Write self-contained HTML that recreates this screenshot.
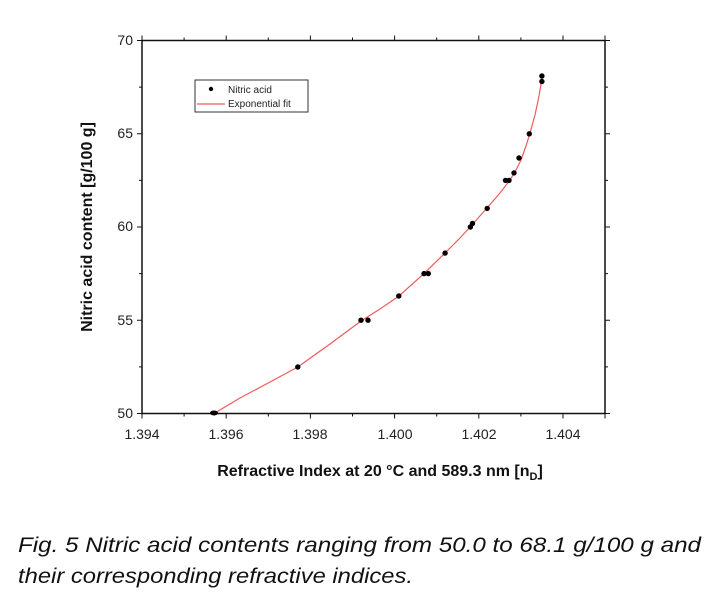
<!DOCTYPE html>
<html><head><meta charset="utf-8"><style>html,body{margin:0;padding:0;background:#fff}svg{display:block}</style></head><body>
<svg width="715" height="600" xmlns="http://www.w3.org/2000/svg" font-family="Liberation Sans, Arial, sans-serif">
<rect width="715" height="600" fill="#fff"/>
<g stroke="#111" stroke-width="1.5" fill="none">
<rect x="142" y="40.5" width="463" height="373"/>
</g>
<g stroke="#111" stroke-width="1">
<path d="M142 413.5v5M226.2 413.5v5M310.4 413.5v5M394.6 413.5v5M478.8 413.5v5M563 413.5v5M605 413.5v5
M184.1 413.5v3M268.3 413.5v3M352.5 413.5v3M436.7 413.5v3M520.9 413.5v3
M142 40.5v-5M226.2 40.5v-5M310.4 40.5v-5M394.6 40.5v-5M478.8 40.5v-5M563 40.5v-5M605 40.5v-5
M184.1 40.5v-3M268.3 40.5v-3M352.5 40.5v-3M436.7 40.5v-3M520.9 40.5v-3
M142 40.5h-5M142 133.75h-5M142 227h-5M142 320.25h-5M142 413.5h-5
M142 87.1h-3M142 180.4h-3M142 273.6h-3M142 366.9h-3
M605 40.5h5M605 133.75h5M605 227h5M605 320.25h5M605 413.5h5
M605 87.1h3M605 180.4h3M605 273.6h3M605 366.9h3"/>
</g>
<g font-size="14" fill="#222" text-anchor="middle">
<text x="142" y="439">1.394</text><text x="226" y="439">1.396</text><text x="310" y="439">1.398</text>
<text x="395" y="439">1.400</text><text x="479" y="439">1.402</text><text x="563" y="439">1.404</text>
</g>
<g font-size="14" fill="#222" text-anchor="end">
<text x="133" y="45">70</text><text x="133" y="138">65</text><text x="133" y="231">60</text>
<text x="133" y="325">55</text><text x="133" y="418">50</text>
</g>
<text x="380" y="476" font-size="16" font-weight="bold" text-anchor="middle" fill="#111">Refractive Index at 20 °C and 589.3 nm [n<tspan font-size="11" dy="4">D</tspan><tspan dy="-4">]</tspan></text>
<text transform="translate(92,227) rotate(-90)" font-size="16" font-weight="bold" text-anchor="middle" fill="#111">Nitric acid content [g/100 g]</text>
<polyline fill="none" stroke="#f05a5a" stroke-width="1.2" points="214,413.5 240,398 270,382 297.8,367 330,344 361,321 380,309 399,296 424,273.6 445,253 460,238 471,226 487,208 500,193 510,180 516,170 521,160 526,146 530,133 535,115 539,96 542,78"/>
<g fill="#000">
<ellipse cx="214" cy="413" rx="4" ry="2.5"/>
<circle cx="297.8" cy="367" r="2.7"/>
<circle cx="361" cy="320.2" r="2.7"/><circle cx="368" cy="320.2" r="2.7"/>
<circle cx="398.8" cy="296" r="2.7"/>
<circle cx="424" cy="273.6" r="2.7"/><circle cx="428.3" cy="273.6" r="2.7"/>
<circle cx="445.1" cy="253.1" r="2.7"/>
<circle cx="470.4" cy="227" r="2.7"/><circle cx="472.5" cy="223.5" r="2.7"/>
<circle cx="487.2" cy="208.4" r="2.7"/>
<circle cx="505.5" cy="180.4" r="2.7"/><circle cx="509" cy="180.4" r="2.7"/>
<circle cx="514" cy="172.9" r="2.7"/>
<circle cx="519" cy="158" r="2.7"/>
<circle cx="529.3" cy="133.8" r="2.7"/>
<circle cx="541.9" cy="81.5" r="2.7"/><circle cx="541.9" cy="76" r="2.7"/>
</g>
<rect x="195" y="80" width="113" height="32" fill="#fff" stroke="#333" stroke-width="1"/>
<circle cx="211" cy="89" r="2.2" fill="#000"/>
<line x1="197" y1="104" x2="225" y2="104" stroke="#f05a5a" stroke-width="1.2"/>
<g font-size="10" fill="#222"><text x="228" y="93">Nitric acid</text><text x="228" y="107">Exponential fit</text></g>
<g font-size="21" font-style="italic" fill="#111">
<text x="18" y="552" textLength="683" lengthAdjust="spacingAndGlyphs">Fig. 5  Nitric acid contents ranging from 50.0 to 68.1 g/100 g and</text>
<text x="18" y="583" textLength="395" lengthAdjust="spacingAndGlyphs">their corresponding refractive indices.</text>
</g>
</svg>
</body></html>
